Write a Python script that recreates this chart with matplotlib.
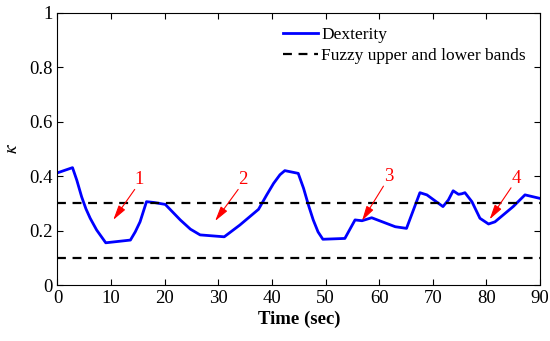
import matplotlib
matplotlib.use("Agg")
import matplotlib.pyplot as plt

t = [0, 2.8, 3.6, 4.5, 5.3, 6.1, 7.3, 9.0, 13.6, 14.5, 15.4, 16.6, 18.0, 20.1, 22.9, 24.8, 26.6,
     31.1, 34.0, 37.5, 39.0, 40.3, 41.5, 42.4, 44.9, 45.9, 46.8, 47.7, 48.6, 49.5, 53.6, 55.5,
     56.8, 58.6, 63.0, 65.1, 67.6, 68.9, 70.5, 71.9, 72.9, 73.8, 74.8, 75.4, 76.0, 77.3, 78.8,
     80.4, 81.6, 85.0, 87.2, 90.0]
dexterity = [0.412, 0.431, 0.385, 0.324, 0.280, 0.245, 0.202, 0.155, 0.165, 0.195, 0.232, 0.306,
             0.303, 0.296, 0.239, 0.205, 0.184, 0.177, 0.220, 0.278, 0.330, 0.373, 0.405, 0.420,
             0.410, 0.355, 0.294, 0.239, 0.195, 0.168, 0.171, 0.239, 0.236, 0.247, 0.214, 0.208,
             0.339, 0.331, 0.308, 0.288, 0.312, 0.346, 0.333, 0.335, 0.339, 0.306, 0.245, 0.224,
             0.232, 0.288, 0.331, 0.318]
upper_band = 0.3
lower_band = 0.1
labels = ["1", "2", "3", "4"]
label_xy = [(15.3, 0.386), (34.6, 0.386), (61.7, 0.398), (85.5, 0.392)]
arrow_tip = [(10.4, 0.239), (29.4, 0.235), (56.8, 0.236), (80.6, 0.241)]

plt.rcParams['font.family'] = ['Liberation Serif', 'DejaVu Serif']
plt.rcParams['mathtext.fontset'] = 'stix'

fig = plt.figure(figsize=(5.5, 3.41), dpi=100)
ax = fig.add_axes([57.5/550, 1-285/341, (540-57.5)/550, (285-12.7)/341])

ax.plot(t, dexterity, color='#0000ff', lw=2, label='Dexterity')
ax.plot([0, 90], [upper_band, upper_band], 'k--', lw=1.6, dashes=(4, 3),
        label='Fuzzy upper and lower bands')
ax.plot([0, 90], [lower_band, lower_band], 'k--', lw=1.6, dashes=(4, 3))

for lab, (lx, ly), (tx, ty) in zip(labels, label_xy, arrow_tip):
    ax.annotate('', xy=(tx, ty), xytext=(lx - 0.9, ly - 0.035),
                arrowprops=dict(arrowstyle='-|>,head_length=0.75,head_width=0.2',
                                color='red', lw=0.8, mutation_scale=12,
                                shrinkA=0, shrinkB=0))
    ax.text(lx, ly, lab, color='red', fontsize=13.5, ha='center', va='center')

ax.set_xlim(0, 90)
ax.set_ylim(0, 1)
ax.set_xticks(range(0, 91, 10))
ax.set_yticks([0, 0.2, 0.4, 0.6, 0.8, 1])
ax.set_yticklabels(['0', '0.2', '0.4', '0.6', '0.8', '1'])
ax.tick_params(direction='in', top=True, right=True, labelsize=13.5, length=4, width=0.8)
for s in ax.spines.values():
    s.set_linewidth(0.8)
ax.set_xlabel('Time (sec)', fontsize=13.5, fontweight='bold', labelpad=3)
ax.set_ylabel(r'$\kappa$', fontsize=14, labelpad=6)

ax.legend(loc='upper right', frameon=False, fontsize=12.5, handlelength=2.0,
          handletextpad=0.2, labelspacing=0.3, borderaxespad=0.4)

fig.savefig('out.png', dpi=100)
